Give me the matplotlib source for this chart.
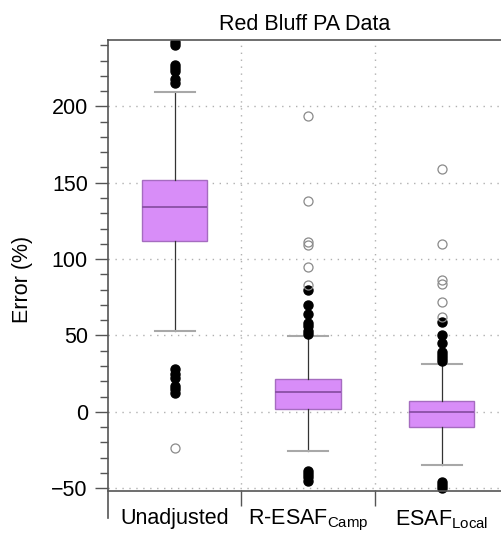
import matplotlib
matplotlib.use('Agg')
import matplotlib.pyplot as plt

plt.rcParams['font.family'] = ['Liberation Sans', 'DejaVu Sans']
plt.rcParams['mathtext.fontset'] = 'custom'
plt.rcParams['mathtext.rm'] = 'Liberation Sans'
plt.rcParams['mathtext.it'] = 'Liberation Sans'

categorias = ['Unadjusted', r'R-ESAF$_{\mathrm{Camp}}$', r'ESAF$_{\mathrm{Local}}$']

# estadisticos de cada caja
q1 = [112, 2, -10]
mediana = [134, 13, 0]
q3 = [152, 21.6, 7]
bigote_inf = [53, -26, -35]
bigote_sup = [209.6, 49.6, 31.4]

# atipicos moderados (negros) y extremos (huecos)
atipicos = [
    [242, 240, 227, 225, 223, 218, 215, 28, 25, 22, 17, 15, 12],
    [80, 70, 64, 58, 56, 53, 51, -39, -41, -43, -45],
    [59, 50, 45, 39, 37, 35, 33, -46, -48, -50],
]
extremos = [
    [-24],
    [194, 138, 111, 109, 95, 83],
    [159, 110, 86, 84, 72, 62],
]

stats = []
for i in range(3):
    stats.append({'q1': q1[i], 'med': mediana[i], 'q3': q3[i],
                  'whislo': bigote_inf[i], 'whishi': bigote_sup[i],
                  'fliers': atipicos[i]})

fig = plt.figure(figsize=(5.01, 5.33), dpi=100)
ax = fig.add_axes([0.2156, 0.028, 0.7844, 0.897])

y_eje = -51.7
ax.set_xlim(0.5, 3.445)
ax.set_ylim(-69.6, 243.5)

# rejilla punteada
for yv in [-50, 0, 50, 100, 150, 200]:
    ax.axhline(yv, color='#b0b0b0', ls=(0, (1, 4)), lw=1, zorder=0)
ax.vlines([1.5, 2.5], y_eje, 243.5, color='#b0b0b0', ls=(0, (1, 4)), lw=1, zorder=0)

ax.bxp(stats, positions=[1, 2, 3], widths=0.49, capwidths=0.3, patch_artist=True,
       boxprops=dict(facecolor='#d88df8', edgecolor='#a56cc0', lw=1),
       medianprops=dict(color='#8a4fa6', lw=1.3),
       whiskerprops=dict(color='#333333', lw=0.9),
       capprops=dict(color='#a8a8a8', lw=1.5),
       flierprops=dict(marker='o', markerfacecolor='black', markeredgecolor='black',
                       markersize=6.5))

for i in range(3):
    ax.plot([i + 1] * len(extremos[i]), extremos[i], 'o', mfc='none', mec='#8a8a8a',
            mew=0.9, ms=6.5, zorder=3)

ax.set_title('Red Bluff PA Data', fontsize=15.5, pad=7)
ax.set_ylabel('Error (%)', fontsize=15.5, labelpad=13)

ax.set_yticks([-50, 0, 50, 100, 150, 200])
ax.set_yticks(range(-50, 241, 10), minor=True)
ax.tick_params(axis='y', which='major', length=9.5, width=1, color='#555555',
               labelsize=15.5, pad=5)
ax.tick_params(axis='y', which='minor', length=6, width=1, color='#555555')

ax.set_xticks([1.5, 2.5])
ax.set_xticklabels(['', ''])
ax.set_xticks([1, 2, 3], minor=True)
ax.set_xticklabels(categorias, minor=True)
ax.tick_params(axis='x', which='major', length=11, width=1, color='#555555')
ax.tick_params(axis='x', which='minor', length=0, pad=12.5, labelsize=15.5)

ax.spines['bottom'].set_position(('data', y_eje))
ax.spines['right'].set_visible(False)
for s in ['left', 'top', 'bottom']:
    ax.spines[s].set_color('#555555')
    ax.spines[s].set_linewidth(1.2)

fig.savefig('out.png', dpi=100)
